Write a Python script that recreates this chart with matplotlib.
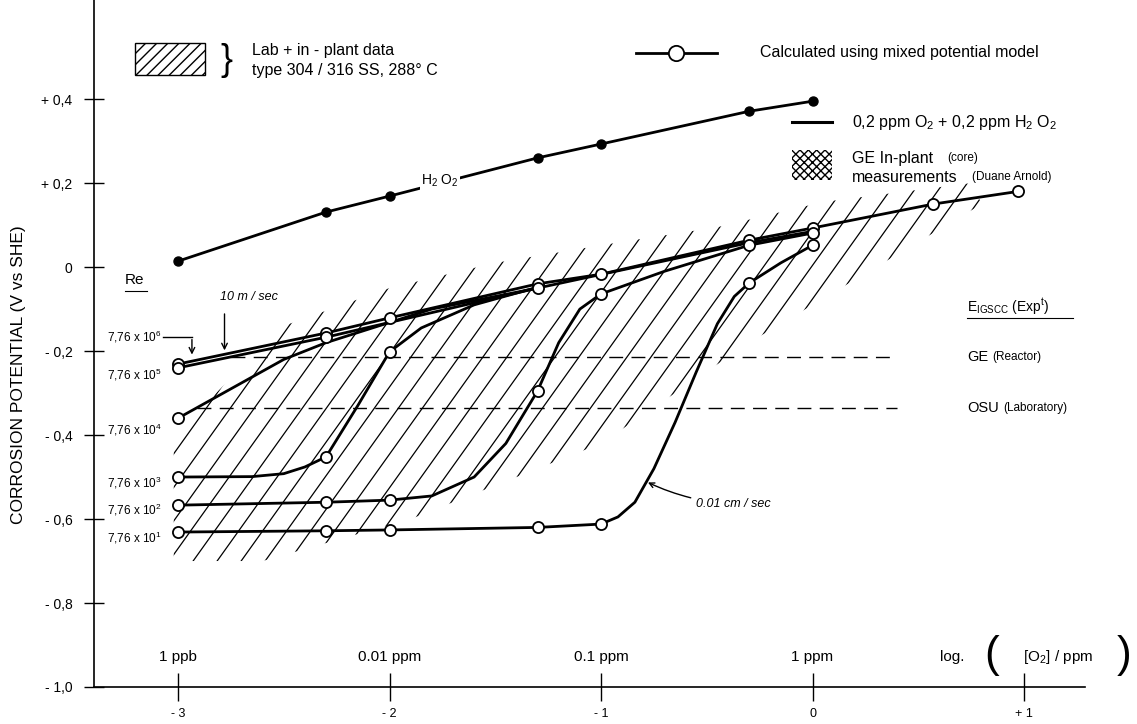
import numpy as np
import matplotlib.pyplot as plt
from matplotlib.patches import Polygon, Rectangle
from matplotlib.lines import Line2D

plt.rcParams['font.family'] = ['Liberation Sans', 'DejaVu Sans']
plt.rcParams['mathtext.default'] = 'regular'

W, H = 1137, 724

# x = log10([O2]/ppm), y = corrosion potential (V vs SHE)
h2o2_x = [-3, -2.3, -2, -1.3, -1, -0.3, 0]
h2o2_y = [0.014, 0.131, 0.169, 0.26, 0.293, 0.371, 0.395]

# curve paths (Re = 7,76 x 10^n)
re6_x = [-3, -2.3, -2, -1.3, -1, -0.3, 0, 0.57, 0.97]
re6_y = [-0.231, -0.157, -0.121, -0.040, -0.017, 0.064, 0.093, 0.15, 0.18]
re5_x = [-3, -2.3, -1.3, -0.3, 0]
re5_y = [-0.240, -0.167, -0.050, 0.058, 0.085]
re4_x = [-3, -2.75, -2.5, -2.3, -1.8, -1.3]
re4_y = [-0.36, -0.29, -0.22, -0.18, -0.10, -0.05]
re3_x = [-3, -2.65, -2.5, -2.4, -2.3, -2.15, -2, -1.85, -1.6, -1.3]
re3_y = [-0.50, -0.499, -0.492, -0.476, -0.452, -0.33, -0.202, -0.145, -0.09, -0.048]
re2_x = [-3, -2.3, -2, -1.8, -1.6, -1.45, -1.3, -1.2, -1.1, -1.0, -0.7, -0.3, 0]
re2_y = [-0.567, -0.56, -0.555, -0.545, -0.50, -0.42, -0.295, -0.18, -0.10, -0.064, -0.01, 0.052, 0.081]
re1_x = [-3, -2.3, -2, -1.3, -1.0, -0.92, -0.84, -0.75, -0.65, -0.55, -0.45, -0.37, -0.3, -0.15, 0]
re1_y = [-0.631, -0.628, -0.626, -0.62, -0.612, -0.595, -0.56, -0.48, -0.37, -0.25, -0.135, -0.07, -0.038, 0.01, 0.052]

# open circles (calculated points)
circ_x = [-3, -3, -3, -3, -3, -3, -2.3, -2.3, -2.3, -2.3, -2.3, -2, -2, -2, -2,
          -1.3, -1.3, -1.3, -1.3, -1, -1, -1, -0.3, -0.3, -0.3, 0, 0, 0, 0.57, 0.97]
circ_y = [-0.231, -0.240, -0.36, -0.50, -0.567, -0.631,
          -0.157, -0.167, -0.452, -0.56, -0.628,
          -0.121, -0.202, -0.555, -0.626,
          -0.040, -0.050, -0.295, -0.62,
          -0.017, -0.064, -0.612,
          0.064, 0.052, -0.038,
          0.093, 0.081, 0.052, 0.15, 0.18]

re_text = ['7,76 x 10$^6$', '7,76 x 10$^5$', '7,76 x 10$^4$',
           '7,76 x 10$^3$', '7,76 x 10$^2$', '7,76 x 10$^1$']
re_text_y = [-0.167, -0.257, -0.388, -0.514, -0.578, -0.645]

# lab + in-plant data band
band_x = [-3.02, -2.6, -1.9, -1.0, -0.3, 0.3, 0.8, 0.75, 0.05, -0.45, -0.9, -1.5, -2.0, -2.5, -3.02]
band_y = [-0.70, -0.70, -0.60, -0.42, -0.18, 0.0, 0.15, 0.20, 0.155, 0.095, 0.06, 0.01, -0.05, -0.14, -0.40]

ecp_ge = -0.215
ecp_osu = -0.335

xticks = [-3, -2, -1, 0, 1]
xticklabels = ['- 3', '- 2', '- 1', '0', '+ 1']
yticks = [-1.0, -0.8, -0.6, -0.4, -0.2, 0, 0.2, 0.4]
yticklabels = ['- 1,0', '- 0,8', '- 0,6', '- 0,4', '- 0,2', '0', '+ 0,2', '+ 0,4']
conc_labels = ['1 ppb', '0.01 ppm', '0.1 ppm', '1 ppm']


def fx(px):
    return px / W


def fy(py):
    return 1 - py / H


fig = plt.figure(figsize=(W / 100, H / 100), dpi=100)
ax = fig.add_axes([fx(94), fy(687), fx(1085) - fx(94), fy(0) - fy(687)])
ax.set_xlim(-3.397, 1.288)
ax.set_ylim(-1.0, 0.636)

for s in ['top', 'right']:
    ax.spines[s].set_visible(False)
ax.spines['left'].set_linewidth(1.2)
ax.spines['bottom'].set_linewidth(1.2)

ax.set_xticks(xticks)
ax.set_xticklabels(xticklabels, fontsize=9)
ax.set_yticks(yticks)
ax.set_yticklabels(yticklabels, fontsize=10)
ax.tick_params(axis='y', direction='inout', length=15, width=1, pad=8)
ax.tick_params(axis='x', direction='inout', length=20, width=1, pad=5)
fig.text(fx(19), fy(375), 'CORROSION POTENTIAL (V vs SHE)', fontsize=12.5,
         rotation=90, ha='center', va='center')

# hatched band
band = Polygon(np.column_stack([band_x, band_y]), closed=True, fill=False, lw=0)
ax.add_patch(band)
slope = 0.705
for x0 in np.arange(-5, 2, 0.1135):
    xs = np.array([-3.5, 1.5])
    ln, = ax.plot(xs, slope * (xs - x0), color='black', lw=0.9, zorder=1)
    ln.set_clip_path(band)

# ECP thresholds
ax.plot([-2.75, 0.40], [ecp_ge, ecp_ge], color='black', lw=1, dashes=(10, 6), zorder=2)
ax.plot([-2.91, 0.40], [ecp_osu, ecp_osu], color='black', lw=1, dashes=(10, 6), zorder=2)

# H2O2 line
ax.plot(h2o2_x, h2o2_y, color='black', lw=2, marker='o', ms=6.5, zorder=3)
ax.text(-1.76, 0.205, 'H$_2$ O$_2$', fontsize=10, ha='center', va='center', zorder=4,
        bbox=dict(facecolor='white', edgecolor='none', pad=1))

# calculated curves
for cx, cy in [(re6_x, re6_y), (re5_x, re5_y), (re4_x, re4_y),
               (re3_x, re3_y), (re2_x, re2_y), (re1_x, re1_y)]:
    ax.plot(cx, cy, color='black', lw=2, zorder=3, solid_capstyle='round',
            solid_joinstyle='round')
ax.plot(circ_x, circ_y, ls='none', marker='o', ms=8, mfc='white', mec='black', mew=1.3, zorder=5)

# Re labels
for t, yy in zip(re_text, re_text_y):
    ax.text(-3.335, yy, t, fontsize=8.5, ha='left', va='center')
ax.text(-3.25, -0.03, 'Re', fontsize=11, ha='left', va='center')
ax.plot([-3.25, -3.145], [-0.057, -0.057], color='black', lw=0.8, clip_on=False)

ax.plot([-3.071, -2.934], [-0.167, -0.167], color='black', lw=1)
ax.annotate('', xy=(-2.934, -0.215), xytext=(-2.934, -0.166),
            arrowprops=dict(arrowstyle='->', lw=1, color='black'))
ax.annotate('', xy=(-2.78, -0.205), xytext=(-2.78, -0.105),
            arrowprops=dict(arrowstyle='->', lw=1, color='black'))
ax.text(-2.80, -0.071, '10 m / sec', fontsize=9, style='italic', ha='left', va='center')
ax.annotate('0.01 cm / sec', xy=(-0.79, -0.51), xytext=(-0.55, -0.565),
            fontsize=9, style='italic', ha='left', va='center',
            arrowprops=dict(arrowstyle='->', lw=1, color='black',
                            connectionstyle='arc3,rad=-0.1'))

# concentration labels
for xv, t in zip(xticks[:4], conc_labels):
    ax.text(xv, -0.929, t, fontsize=11, ha='center', va='center')

# right labels
ax.text(0.73, -0.095, 'E$_{IGSCC}$ (Exp$^t$)', fontsize=10, ha='left', va='center')
ax.plot([0.73, 1.23], [-0.121, -0.121], color='black', lw=0.8, clip_on=False)
t1 = ax.text(0.73, ecp_ge, 'GE', fontsize=10.5, ha='left', va='center')
ax.annotate('(Reactor)', xy=(1, 0.5), xycoords=t1, xytext=(3, 0), textcoords='offset points',
            fontsize=8.5, ha='left', va='center')
t2 = ax.text(0.73, ecp_osu, 'OSU', fontsize=10.5, ha='left', va='center')
ax.annotate('(Laboratory)', xy=(1, 0.5), xycoords=t2, xytext=(3, 0), textcoords='offset points',
            fontsize=8.5, ha='left', va='center')

# log axis title
fig.text(fx(940), fy(657), 'log.', fontsize=11, ha='left', va='center')
fig.text(fx(992), fy(655), '(', fontsize=32, ha='center', va='center', fontweight='light')
fig.text(fx(1058), fy(657), '[O$_2$] / ppm', fontsize=11, ha='center', va='center')
fig.text(fx(1124), fy(655), ')', fontsize=32, ha='center', va='center', fontweight='light')

# legend, top left
fig.add_artist(Rectangle((fx(135), fy(75)), fx(205) - fx(135), fy(43) - fy(75),
                         transform=fig.transFigure, fill=False, hatch='///', lw=1))
fig.text(fx(226), fy(60), '}', fontsize=26, ha='center', va='center', fontweight='light')
fig.text(fx(252), fy(50), 'Lab + in - plant data', fontsize=11.5, ha='left', va='center')
fig.text(fx(252), fy(70), 'type 304 / 316 SS, 288° C', fontsize=11.5, ha='left', va='center')

# legend, top right
fig.add_artist(Line2D([fx(636), fx(717)], [fy(53), fy(53)], transform=fig.transFigure,
                      color='black', lw=2))
fig.add_artist(Line2D([fx(676)], [fy(53)], transform=fig.transFigure, marker='o', ms=11,
                      mfc='white', mec='black', mew=1.3))
fig.text(fx(760), fy(53), 'Calculated using mixed potential model', fontsize=11.5,
         ha='left', va='center')
fig.add_artist(Line2D([fx(792), fx(832)], [fy(122), fy(122)], transform=fig.transFigure,
                      color='black', lw=2.2))
fig.text(fx(852), fy(122), '0,2 ppm O$_2$ + 0,2 ppm H$_2$ O$_2$', fontsize=11.5,
         ha='left', va='center')
fig.add_artist(Rectangle((fx(792), fy(180)), fx(832) - fx(792), fy(150) - fy(180),
                         transform=fig.transFigure, fill=False, hatch='xxxx', lw=0))
fig.text(fx(852), fy(158), 'GE In-plant', fontsize=11.5, ha='left', va='center')
fig.text(fx(947), fy(158), '(core)', fontsize=8.5, ha='left', va='center')
fig.text(fx(852), fy(177), 'measurements', fontsize=11.5, ha='left', va='center')
fig.text(fx(972), fy(177), '(Duane Arnold)', fontsize=8.5, ha='left', va='center')

fig.savefig('out.png', dpi=100)
